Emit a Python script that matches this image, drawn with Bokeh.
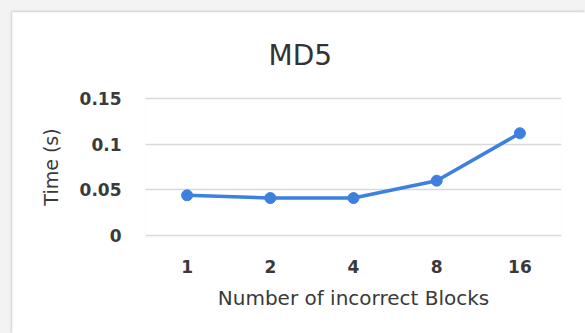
from bokeh.plotting import figure
from bokeh.models import Range1d, FactorRange, Column
from bokeh.embed import file_html
from bokeh.resources import INLINE

# Timing of MD5 check against the number of incorrect blocks
blocks = ["1", "2", "4", "8", "16"]
times = [0.044, 0.041, 0.041, 0.060, 0.112]
y_ticks = [0, 0.05, 0.1, 0.15]
y_tick_labels = {0: "0", 0.05: "0.05", 0.1: "0.1", 0.15: "0.15"}

FONT = "DejaVu Sans"
TEXT = "#3a3a3a"
BLUE = "#3d80e0"

p = figure(
    width=573, height=321,
    x_range=FactorRange(*blocks, range_padding=0),
    # a hair of room so the 0 and 0.15 grid lines stay inside the frame
    y_range=Range1d(-0.0022, 0.1522),
    output_backend="svg", toolbar_location=None,
    min_border_left=133, min_border_right=24,
    min_border_top=84, min_border_bottom=96,
    title="MD5",
)
p.margin = (12, 0, 0, 12)
p.styles = {"box-shadow": "-1px -1px 2px #d0d0d0"}
p.outline_line_color = None
p.background_fill_color = "white"
p.border_fill_color = "white"

# title sits over the middle of the whole chart box, not the plot frame
p.title.align = "left"
p.title.offset = 123
p.title.text_font = FONT
p.title.text_font_size = "28px"
p.title.text_font_style = "normal"
p.title.text_color = "#333333"
p.title.standoff = 49

p.line(blocks, times, line_color=BLUE, line_width=3.5)
p.scatter(blocks, times, size=11, fill_color=BLUE, line_color=BLUE)

p.xgrid.grid_line_color = None
p.ygrid.grid_line_color = "#d9d9d9"
p.ygrid.grid_line_width = 1.5

for ax in (p.xaxis, p.yaxis):
    ax.axis_line_color = None
    ax.major_tick_line_color = None
    ax.minor_tick_line_color = None
    ax.major_label_text_font = FONT
    ax.major_label_text_font_size = "17px"
    ax.major_label_text_font_style = "bold"
    ax.major_label_text_color = TEXT
    ax.axis_label_text_font = FONT
    ax.axis_label_text_font_style = "normal"
    ax.axis_label_text_color = TEXT

p.yaxis.ticker = y_ticks
p.yaxis.major_label_overrides = y_tick_labels
p.yaxis.major_label_standoff = 18
p.yaxis.axis_label = "Time (s)"
p.yaxis.axis_label_text_font_size = "19px"
p.yaxis.axis_label_standoff = 15

p.xaxis.major_label_standoff = 16
p.xaxis.axis_label = "Number of incorrect Blocks"
p.xaxis.axis_label_text_font_size = "20px"
p.xaxis.axis_label_standoff = 10

page = Column(p, width=585, height=333, styles={"background-color": "#f3f3f3"})

open("out.html", "w").write(file_html(page, INLINE))
